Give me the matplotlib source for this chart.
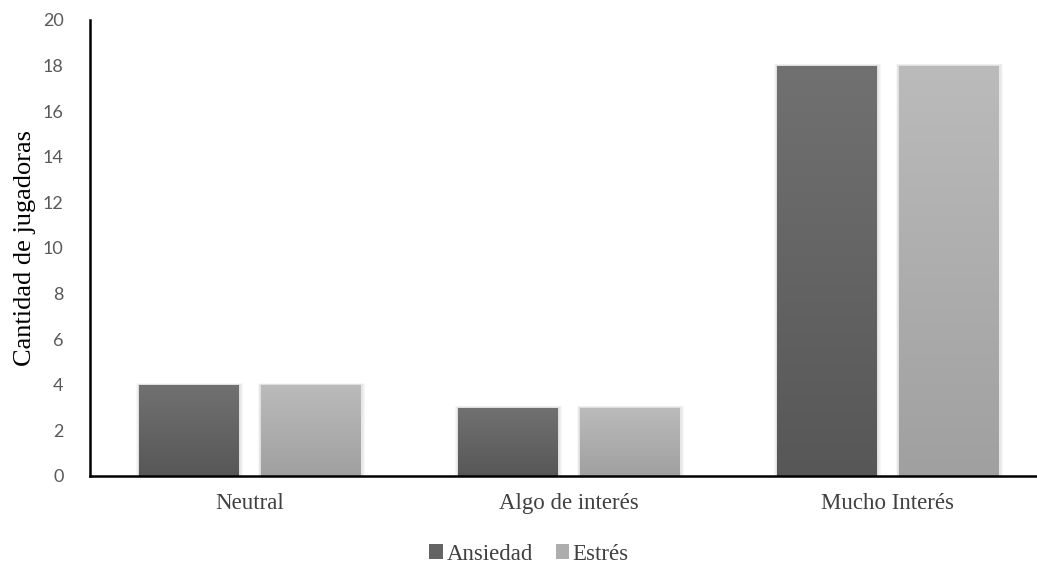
import numpy as np
import matplotlib
matplotlib.use('Agg')
import matplotlib.pyplot as plt
from matplotlib.patches import Rectangle, Patch
from matplotlib.colors import LinearSegmentedColormap

categories = ['Neutral', 'Algo de interés', 'Mucho Interés']
series_names = ['Ansiedad', 'Estrés']
ansiedad = [4, 3, 18]
estres = [4, 3, 18]
y_ticks = [0, 2, 4, 6, 8, 10, 12, 14, 16, 18, 20]

# gradient top -> bottom per series
GRAD = {
    'Ansiedad': ('#717171', '#575757'),
    'Estrés': ('#bbbbbb', '#a0a0a0'),
}
SERIF = 'Liberation Serif'

fig = plt.figure(figsize=(10.37, 5.65), dpi=100)
ax = fig.add_axes([90/1037, 89/565, 947/1037, 456/565])

width = 0.313
offset = 0.191
x = np.arange(len(categories))

for vals, name, sign in [(ansiedad, 'Ansiedad', -1), (estres, 'Estrés', 1)]:
    top_c, bot_c = GRAD[name]
    cmap = LinearSegmentedColormap.from_list(name, [bot_c, top_c])
    bars = ax.bar(x + sign * offset, vals, width, color='none', zorder=3)
    for b in bars:
        x0, w, h = b.get_x(), b.get_width(), b.get_height()
        # soft shadow, mostly on the sides
        for k in range(4):
            pad = 0.0035 * (k + 1)
            ax.add_patch(Rectangle((x0 - pad * 0.5, 0), w + pad * 1.5, h + pad * 5,
                                   facecolor='black', alpha=0.03, lw=0, zorder=1))
        grad = np.linspace(0, 1, 256).reshape(-1, 1)
        im = ax.imshow(grad, cmap=cmap, origin='lower', aspect='auto',
                       extent=[x0, x0 + w, 0, h], zorder=2)
        im.set_clip_path(b)

ax.set_xlim(-0.5, -0.5 + 947/319)
ax.set_ylim(0, 20)
ax.set_yticks(y_ticks)
ax.set_xticks(x)
ax.set_xticklabels(categories, family=SERIF, fontsize=16.5, color='#404040')
ax.tick_params(axis='x', length=0, pad=12)
ax.tick_params(axis='y', length=0, pad=19, labelsize=13, labelcolor='#595959')
for lab in ax.get_yticklabels():
    lab.set_family('Lato')

for s in ['top', 'right']:
    ax.spines[s].set_visible(False)
ax.spines['left'].set_linewidth(1.8)
ax.spines['bottom'].set_linewidth(1.8)
ax.spines['left'].set_color('black')
ax.spines['bottom'].set_color('black')

ax.set_ylabel('Cantidad de jugadoras', family=SERIF, fontsize=19, color='black', labelpad=5)

handles = [Patch(facecolor='#646464', edgecolor='none'),
           Patch(facecolor='#adadad', edgecolor='none')]
fig.legend(handles, series_names, loc='center', bbox_to_anchor=(529/1037, 1 - 554/565),
           ncol=2, frameon=False, prop={'family': SERIF, 'size': 16.5},
           handlelength=0.6, handleheight=0.6, handletextpad=0.15, columnspacing=1.0,
           labelcolor='#404040')

fig.savefig('out.png', dpi=100)
